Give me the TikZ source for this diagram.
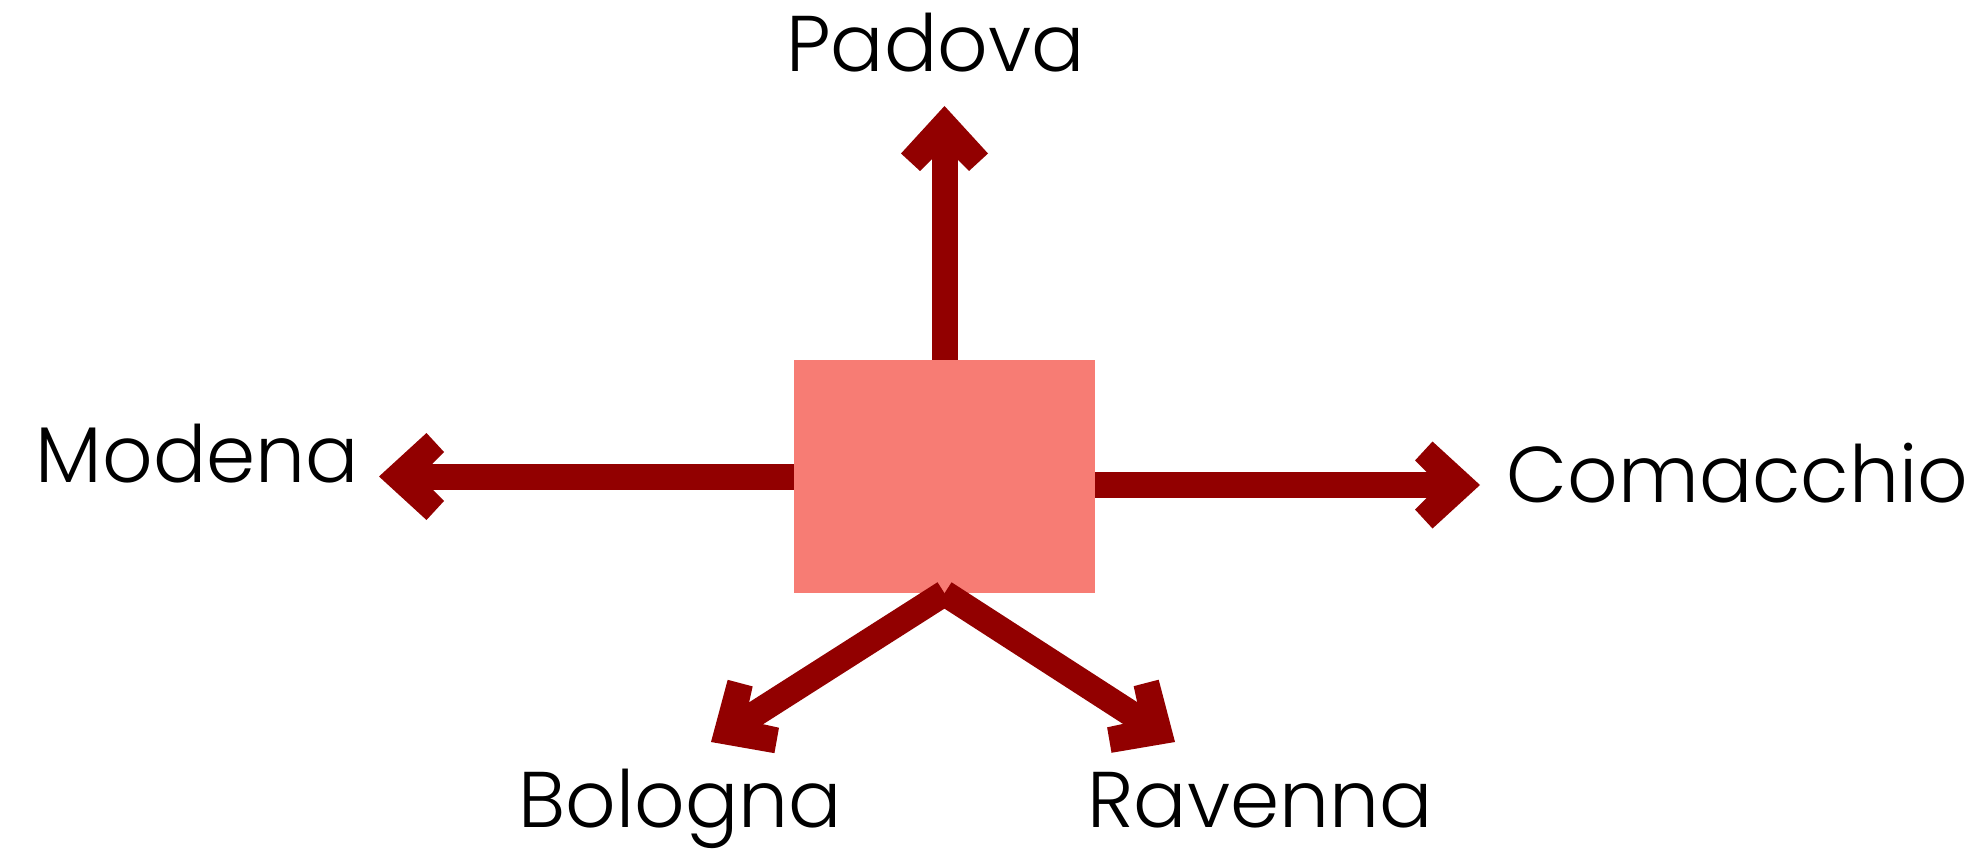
\documentclass[tikz,border=0pt]{standalone}
\usepackage{fontspec}
\setmainfont{Poppins Light}
\usetikzlibrary{arrows.meta}
\definecolor{arrcol}{HTML}{920000}
\definecolor{boxcol}{HTML}{F77C74}
\pgfdeclarearrow{
  name = Chev,
  setup code = {
    \pgfarrowssettipend{0pt}
    \pgfarrowssetbackend{-65pt}
    \pgfarrowssetlineend{-52pt}
    \pgfarrowshullpoint{0pt}{0pt}
    \pgfarrowshullpoint{-47.5pt}{43.5pt}
    \pgfarrowshullpoint{-65pt}{24.5pt}
    \pgfarrowshullpoint{-65pt}{-24.5pt}
    \pgfarrowshullpoint{-47.5pt}{-43.5pt}
  },
  drawing code = {
    \pgfpathmoveto{\pgfqpoint{0pt}{0pt}}
    \pgfpathlineto{\pgfqpoint{-47.5pt}{43.5pt}}
    \pgfpathlineto{\pgfqpoint{-65pt}{24.5pt}}
    \pgfpathlineto{\pgfqpoint{-53.5pt}{13pt}}
    \pgfpathlineto{\pgfqpoint{-53.5pt}{-13pt}}
    \pgfpathlineto{\pgfqpoint{-65pt}{-24.5pt}}
    \pgfpathlineto{\pgfqpoint{-47.5pt}{-43.5pt}}
    \pgfpathclose
    \pgfusepathqfill
  }
}
\tikzset{
  link/.style={color=arrcol, line width=26pt, line cap=butt, -{Chev[]}},
  hub/.style={fill=boxcol, draw=none, inner sep=0pt, minimum width=301pt, minimum height=233pt},
  lbl/.style={inner sep=0pt, anchor=base, font=\fontsize{79}{90}\selectfont}
}
\begin{document}
\begin{tikzpicture}[x=1pt, y=-1pt]
  \fill[white] (0,0) rectangle (1981,853);
  \useasboundingbox (0,0) rectangle (1981,853);
  \node[hub] (c) at (944.5,476.5) {};
  \node[lbl] (padova) at (935.5,72) {Padova};
  \node[lbl] (modena) at (197.5,482) {Modena};
  \node[lbl] (comacchio) at (1737.5,502) {Comacchio};
  \node[lbl] (bologna) at (680,827) {Bologna};
  \node[lbl] (ravenna) at (1260,827) {Ravenna};
  \coordinate (tP) at (944.5,106);
  \coordinate (tM) at (379,476.5);
  \coordinate (sC) at (1095,485);
  \coordinate (tC) at (1480,485);
  \coordinate (tB) at (711,742);
  \coordinate (tR) at (1175,742);
  \draw[link] (c.north) -- (tP);
  \draw[link] (c.west) -- (tM);
  \draw[link] (sC) -- (tC);
  \draw[link] (c.south) -- (tB);
  \draw[link] (c.south) -- (tR);
\end{tikzpicture}
\end{document}
